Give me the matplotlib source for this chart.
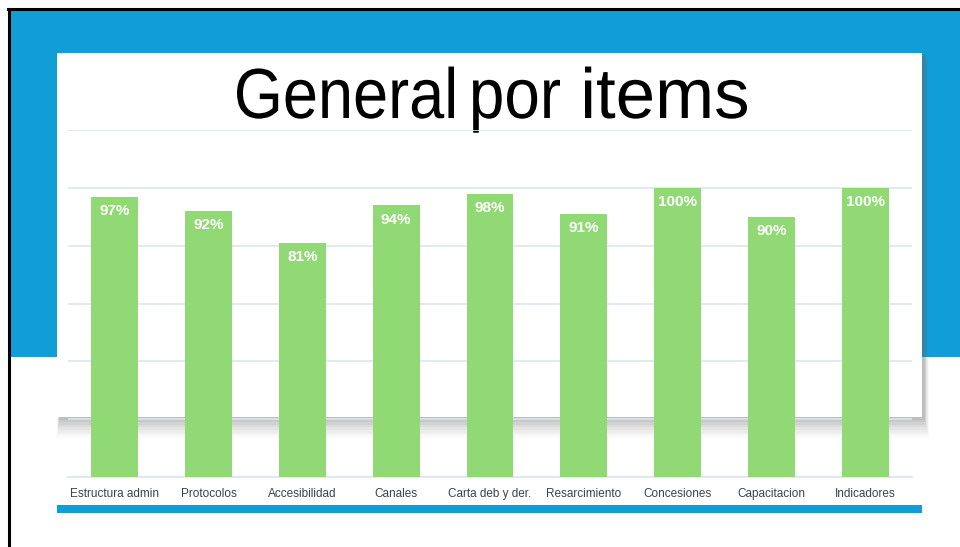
import matplotlib.pyplot as plt
from matplotlib.patches import Rectangle, PathPatch
from matplotlib.lines import Line2D
from matplotlib.textpath import TextPath
from matplotlib.font_manager import FontProperties
from matplotlib.transforms import Affine2D, IdentityTransform

W, H = 960, 547

categorias = ['Estructura admin', 'Protocolos', 'Accesibilidad', 'Canales',
              'Carta deb y der.', 'Resarcimiento', 'Concesiones',
              'Capacitacion', 'Indicadores']
valores = [97, 92, 81, 94, 98, 91, 100, 90, 100]

# titulo: palabra y su extension horizontal en pixeles (x inicial, x final)
titulo_palabras = ['General', 'por', 'items']
titulo_x = [(237, 454), (473, 560), (585, 747)]

C_AZUL = '#119ED6'
C_BARRA = '#91D975'
C_GRID = '#DCE6F1'


def px(x, y, w, h):
    # rect en pixeles (y desde arriba) -> coords de figura
    return (x / W, 1 - (y + h) / H), w / W, h / H


fig = plt.figure(figsize=(9.6, 5.47), dpi=100)
fig.patch.set_facecolor('white')

# fondo azul del slide
xy, w, h = px(10, 10, 950, 347)
fig.patches.append(Rectangle(xy, w, h, transform=fig.transFigure,
                             facecolor=C_AZUL, edgecolor='none', zorder=0))

# sombra de la tarjeta
for i, a in enumerate([0.03, 0.04, 0.05, 0.06, 0.07, 0.08, 0.09, 0.1]):
    off = 16 - i * 2
    xy, w, h = px(60 - off * 0.2, 53 + off * 0.3, 864 + off * 0.5, 364 + off)
    fig.patches.append(Rectangle(xy, w, h, transform=fig.transFigure,
                                 facecolor='#6a6a6a', edgecolor='none',
                                 alpha=a, zorder=0.5))

# tarjeta blanca
xy, w, h = px(57, 53, 865, 364)
fig.patches.append(Rectangle(xy, w, h, transform=fig.transFigure,
                             facecolor='white', edgecolor='none', zorder=1))

# barra azul inferior
xy, w, h = px(57, 505, 865, 8)
fig.patches.append(Rectangle(xy, w, h, transform=fig.transFigure,
                             facecolor=C_AZUL, edgecolor='none', zorder=1))

# borde negro (arriba e izquierda)
fig.lines.append(Line2D([8 / W, 1], [1 - 9 / H, 1 - 9 / H],
                        transform=fig.transFigure, color='black', lw=2.2, zorder=2))
fig.lines.append(Line2D([9 / W, 9 / W], [0, 1 - 9 / H],
                        transform=fig.transFigure, color='black', lw=2.2, zorder=2))

# titulo: cada palabra ajustada a su ancho (letra condensada del original)
prop = FontProperties(family='Liberation Sans')
size = 71
base = H - 118
for palabra, (xa, xb) in zip(titulo_palabras, titulo_x):
    tp = TextPath((0, 0), palabra, size=size, prop=prop)
    ext = tp.get_extents()
    sx = (xb - xa) / ext.width
    tr = Affine2D().translate(-ext.x0, 0).scale(sx, 1).translate(xa, base)
    fig.patches.append(PathPatch(tr.transform_path(tp), transform=IdentityTransform(),
                                 facecolor='black', edgecolor='none', zorder=3))

# ejes
ax = fig.add_axes([68 / W, 1 - 477 / H, (912 - 68) / W, (477 - 130) / H])
ax.set_zorder(5)
ax.patch.set_alpha(0)

x = range(len(categorias))
ax.bar(x, valores, width=0.5, color=C_BARRA, zorder=3)
for xi, v in zip(x, valores):
    ax.text(xi, v - 2.6, f'{v}%', ha='center', va='top', color='white',
            fontsize=11, fontweight='bold', family='Liberation Sans', zorder=4)

ax.set_xlim(-0.5, len(categorias) - 0.5)
ax.set_ylim(0, 120)
ax.set_yticks(range(0, 121, 20))
ax.yaxis.grid(True, color=C_GRID, lw=1.2, zorder=0)
ax.set_axisbelow(True)
ax.tick_params(axis='y', left=False, labelleft=False)
ax.tick_params(axis='x', length=0, pad=8)
ax.set_xticks(list(x))
ax.set_xticklabels(categorias, fontsize=8.5, family='Liberation Sans', color='#3A4150')
for s in ['top', 'right', 'left']:
    ax.spines[s].set_visible(False)
ax.spines['bottom'].set_color(C_GRID)
ax.spines['bottom'].set_linewidth(1.2)

fig.savefig('out.png', dpi=100, facecolor='white')
